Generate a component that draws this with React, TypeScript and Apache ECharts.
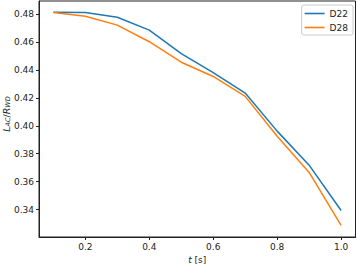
import React, { useEffect, useRef } from "react";
import * as echarts from "echarts";

const times = [0.1, 0.2, 0.3, 0.4, 0.5, 0.6, 0.7, 0.8, 0.9, 1.0];
const d22 = [0.4815, 0.4812, 0.4778, 0.4686, 0.4517, 0.4382, 0.4235, 0.3962, 0.3718, 0.3393];
const d28 = [0.4812, 0.4786, 0.4722, 0.4603, 0.4456, 0.4354, 0.4211, 0.3926, 0.3666, 0.3286];
const xTicks = [0.2, 0.4, 0.6, 0.8, 1.0];
const yTicks = [0.34, 0.36, 0.38, 0.4, 0.42, 0.44, 0.46, 0.48];

const FONT = "DejaVu Sans";

export default function App() {
  const ref = useRef<HTMLDivElement>(null);
  useEffect(() => {
    document.body.style.margin = "0";
    const chart = echarts.init(ref.current!, null, { renderer: "svg" });
    chart.setOption({
      animation: false,
      textStyle: { fontFamily: FONT },
      grid: {
        left: 39,
        right: 1.5,
        top: 1,
        bottom: 27,
        show: true,
        borderColor: "#222",
        borderWidth: 1,
        backgroundColor: "#fff",
        containLabel: false,
        outerBoundsMode: "none",
      },
      graphic: [
        {
          type: "text",
          x: 6,
          y: 114,
          rotation: Math.PI / 2,
          style: {
            text: "{i|L}{s|AC}{n|/}{i|R}{s|WD}",
            align: "center",
            verticalAlign: "middle",
            fontFamily: FONT,
            fontSize: 9,
            fill: "#222",
            rich: {
              i: { fontStyle: "italic", fontFamily: FONT, fontSize: 9.5, fill: "#222" },
              n: { fontFamily: FONT, fontSize: 9.5, fill: "#222" },
              s: {
                fontStyle: "italic",
                fontFamily: FONT,
                fontSize: 6.5,
                fill: "#222",
                verticalAlign: "bottom",
                padding: [4, 0, 0, 0],
              },
            },
          },
        },
      ],
      legend: {
        orient: "vertical",
        right: 4,
        top: 5,
        icon: "rect",
        itemWidth: 20,
        itemHeight: 1.6,
        itemGap: 5,
        padding: [4, 5, 3, 3],
        borderColor: "#ccc",
        borderWidth: 1,
        borderRadius: 2,
        backgroundColor: "#fff",
        textStyle: { fontFamily: FONT, fontSize: 9, color: "#222" },
        data: ["D22", "D28"],
      },
      xAxis: {
        type: "value",
        min: 0.055,
        max: 1.045,
        name: "{i|t} [s]",
        nameLocation: "middle",
        nameGap: 11,
        nameTextStyle: {
          fontFamily: FONT,
          fontSize: 9,
          color: "#222",
          rich: { i: { fontStyle: "italic", fontFamily: FONT, fontSize: 9, color: "#222" } },
        },
        splitLine: { show: false },
        axisLine: { show: true, lineStyle: { color: "#222", width: 1 } },
        axisTick: { show: true, length: 3, lineStyle: { color: "#222" }, customValues: xTicks },
        axisLabel: {
          fontFamily: FONT,
          fontSize: 9,
          color: "#222",
          margin: 5,
          customValues: xTicks,
          formatter: (v: number) => v.toFixed(1),
        },
      },
      yAxis: {
        type: "value",
        min: 0.3203,
        max: 0.4895,
        splitLine: { show: false },
        axisLine: { show: true, lineStyle: { color: "#222", width: 1 } },
        axisTick: { show: true, length: 3, lineStyle: { color: "#222" }, customValues: yTicks },
        axisLabel: {
          fontFamily: FONT,
          fontSize: 9,
          color: "#222",
          margin: 5,
          customValues: yTicks,
          formatter: (v: number) => v.toFixed(2),
        },
      },
      series: [
        {
          name: "D22",
          type: "line",
          data: times.map((t, i) => [t, d22[i]]),
          symbol: "none",
          showSymbol: false,
          lineStyle: { color: "#1f77b4", width: 1.5 },
          itemStyle: { color: "#1f77b4" },
        },
        {
          name: "D28",
          type: "line",
          data: times.map((t, i) => [t, d28[i]]),
          symbol: "none",
          showSymbol: false,
          lineStyle: { color: "#ff7f0e", width: 1.5 },
          itemStyle: { color: "#ff7f0e" },
        },
      ],
    });
    return () => chart.dispose();
  }, []);
  return <div ref={ref} style={{ width: 357, height: 264 }} />;
}
